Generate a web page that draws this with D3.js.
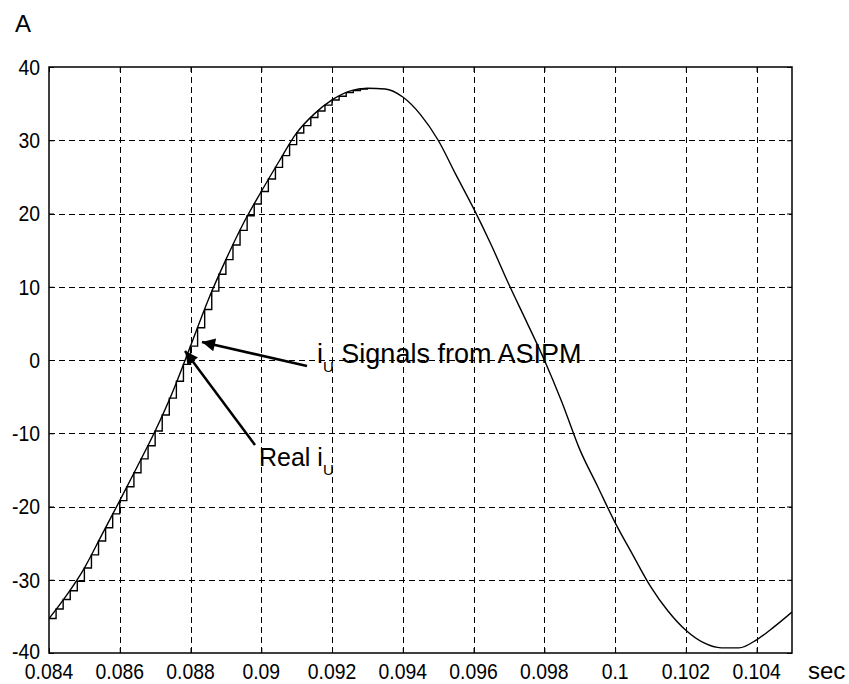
<!DOCTYPE html>
<html>
<head>
<meta charset="utf-8">
<script src="https://cdn.jsdelivr.net/npm/d3@7"></script>
<style>
  body { margin: 0; background: #fff; }
  .tick-label { font-family: "Liberation Sans", Arial, sans-serif; font-size: 22px; fill: #000; }
  .label { font-family: "Liberation Sans", Arial, sans-serif; font-size: 24px; fill: #000; }
</style>
</head>
<body>
<svg id="chart" width="849" height="684"></svg>
<script>
// axis ticks
const xTicks = [0.084, 0.086, 0.088, 0.09, 0.092, 0.094, 0.096, 0.098, 0.1, 0.102, 0.104];
const xTickLabels = ["0.084", "0.086", "0.088", "0.09", "0.092", "0.094", "0.096", "0.098", "0.1", "0.102", "0.104"];
const yTicks = [-40, -30, -20, -10, 0, 10, 20, 30, 40];
const yTickLabels = ["-40", "-30", "-20", "-10", "0", "10", "20", "30", "40"];

// real current iU (A), read every 0.5 ms
const realTime = [
  0.0840, 0.0845, 0.0850, 0.0855, 0.0860, 0.0865, 0.0870, 0.0875, 0.0880, 0.0885,
  0.0890, 0.0895, 0.0900, 0.0905, 0.0910, 0.0915, 0.0920, 0.0925, 0.0930, 0.0935,
  0.0940, 0.0945, 0.0950, 0.0955, 0.0960, 0.0965, 0.0970, 0.0975, 0.0980, 0.0985,
  0.0990, 0.0995, 0.1000, 0.1005, 0.1010, 0.1015, 0.1020, 0.1025, 0.1030, 0.1035,
  0.1040, 0.1045, 0.1050
];
const realCurrent = [
  -35.3, -32.1, -28.4, -23.8, -19.2, -14.5, -9.7, -4.3, 1.9, 8.2,
  13.7, 18.7, 23.0, 27.1, 31.0, 33.6, 35.5, 36.7, 37.1, 37.0,
  35.9, 33.5, 30.0, 25.3, 20.7, 15.7, 10.3, 5.2, 0.0, -5.8,
  -12.2, -17.2, -22.2, -26.6, -30.9, -34.3, -36.9, -38.6, -39.3, -39.3,
  -38.2, -36.4, -34.4
];

// sampled signal from ASIPM (held between samples)
const asipmTime = [
  0.0840, 0.0842, 0.0844, 0.0846, 0.0848, 0.0850, 0.0852, 0.0854, 0.0856, 0.0858,
  0.0860, 0.0862, 0.0864, 0.0866, 0.0868, 0.0870, 0.0872, 0.0874, 0.0876, 0.0878,
  0.0880, 0.0882, 0.0884, 0.0886, 0.0888, 0.0890, 0.0892, 0.0894, 0.0896, 0.0898,
  0.0900, 0.0902, 0.0904, 0.0906, 0.0908, 0.0910, 0.0912, 0.0914, 0.0916, 0.0918,
  0.0920, 0.0922, 0.0924, 0.0926, 0.0928, 0.0930
];
const asipmCurrent = [
  -35.3, -34.0, -32.7, -31.5, -30.2, -28.4, -26.6, -24.7, -22.9, -21.0,
  -19.2, -17.3, -15.4, -13.5, -11.7, -9.7, -7.5, -5.2, -2.9, -0.6,
  1.9, 4.4, 6.9, 9.4, 11.7, 13.7, 15.7, 17.7, 19.7, 21.3,
  23.0, 24.7, 26.3, 27.9, 29.4, 31.0, 32.0, 33.1, 34.0, 34.8,
  35.5, 36.0, 36.5, 36.8, 37.0, 37.1
];

const margin = { top: 67, right: 57, bottom: 31, left: 49 };
const W = 849, H = 684;
const width = W - margin.left - margin.right;
const height = H - margin.top - margin.bottom;

const svg = d3.select("#chart");
const g = svg.append("g").attr("transform", `translate(${margin.left},${margin.top})`);

const x = d3.scaleLinear().domain([0.084, 0.105]).range([0, width]);
const y = d3.scaleLinear().domain([-40, 40]).range([height, 0]);

// dashed grid
g.append("g")
  .attr("class", "grid")
  .attr("transform", `translate(0,${height})`)
  .call(d3.axisBottom(x).tickValues(xTicks.slice(1)).tickSize(-height).tickFormat(""));
g.append("g")
  .attr("class", "grid")
  .call(d3.axisLeft(y).tickValues(yTicks.slice(1, -1)).tickSize(-width).tickFormat(""));
g.selectAll(".grid .domain").remove();
g.selectAll(".grid line")
  .attr("stroke", "#000")
  .attr("stroke-width", 1)
  .attr("stroke-dasharray", "6,4")
  .attr("shape-rendering", "crispEdges");

// inner ticks on all four sides
const tickLen = 5;
g.append("g").attr("transform", `translate(0,${height})`)
  .call(d3.axisBottom(x).tickValues(xTicks).tickSize(-tickLen).tickFormat(""));
g.append("g")
  .call(d3.axisTop(x).tickValues(xTicks).tickSize(-tickLen).tickFormat(""));
g.append("g")
  .call(d3.axisLeft(y).tickValues(yTicks).tickSize(-tickLen).tickFormat(""));
g.append("g").attr("transform", `translate(${width},0)`)
  .call(d3.axisRight(y).tickValues(yTicks).tickSize(-tickLen).tickFormat(""));
g.selectAll(".domain").remove();
g.selectAll(".tick line").attr("stroke", "#000");

// tick labels (squeezed a little, the original font is narrow)
g.selectAll(".xlab")
  .data(xTicks)
  .enter()
  .append("text")
  .attr("class", "tick-label")
  .attr("transform", d => `translate(${x(d)},${height + 26}) scale(0.88,1)`)
  .attr("text-anchor", "middle")
  .text((d, i) => xTickLabels[i]);

g.selectAll(".ylab")
  .data(yTicks)
  .enter()
  .append("text")
  .attr("class", "tick-label")
  .attr("transform", d => `translate(-9,${y(d) - (d === -40 ? 2 : 0)}) scale(0.88,1)`)
  .attr("dy", "0.36em")
  .attr("text-anchor", "end")
  .text((d, i) => yTickLabels[i]);

// curves
g.append("clipPath").attr("id", "clip")
  .append("rect").attr("width", width).attr("height", height);

const real = realTime.map((t, i) => [t, realCurrent[i]]);
const asipm = asipmTime.map((t, i) => [t, asipmCurrent[i]]);

g.append("path")
  .datum(asipm)
  .attr("clip-path", "url(#clip)")
  .attr("fill", "none")
  .attr("stroke", "#000")
  .attr("stroke-width", 1.4)
  .attr("d", d3.line().x(d => x(d[0])).y(d => y(d[1])).curve(d3.curveStepAfter));

g.append("path")
  .datum(real)
  .attr("clip-path", "url(#clip)")
  .attr("fill", "none")
  .attr("stroke", "#000")
  .attr("stroke-width", 1.4)
  .attr("d", d3.line().x(d => x(d[0])).y(d => y(d[1])).curve(d3.curveMonotoneX));

// frame
g.append("rect")
  .attr("width", width)
  .attr("height", height)
  .attr("fill", "none")
  .attr("stroke", "#000")
  .attr("stroke-width", 1.5);

// axis units
svg.append("text").attr("class", "label").attr("x", 15).attr("y", 32).text("A");
svg.append("text").attr("class", "label").attr("x", 808).attr("y", 679).text("sec");

// annotations with arrows
svg.append("defs").append("marker")
  .attr("id", "head")
  .attr("viewBox", "0 0 10 10")
  .attr("refX", 10)
  .attr("refY", 5)
  .attr("markerUnits", "userSpaceOnUse")
  .attr("markerWidth", 19)
  .attr("markerHeight", 13)
  .attr("orient", "auto")
  .append("path")
  .attr("d", "M0,0 L10,5 L0,10 Z")
  .attr("fill", "#000");

svg.append("line")
  .attr("x1", 307).attr("y1", 366)
  .attr("x2", 202).attr("y2", 342)
  .attr("stroke", "#000").attr("stroke-width", 2.5)
  .attr("marker-end", "url(#head)");

svg.append("line")
  .attr("x1", 255).attr("y1", 445)
  .attr("x2", 185).attr("y2", 351)
  .attr("stroke", "#000").attr("stroke-width", 2.5)
  .attr("marker-end", "url(#head)");

const t1 = svg.append("text").attr("class", "label").attr("x", 317).attr("y", 363).style("font-size", "27px");
t1.append("tspan").text("i");
t1.append("tspan").attr("dy", 9).style("font-size", "15px").text("U");
t1.append("tspan").attr("dy", -9).text(" Signals from ASIPM");

const t2 = svg.append("text").attr("class", "label").attr("x", 259).attr("y", 466).style("font-size", "25px");
t2.append("tspan").text("Real i");
t2.append("tspan").attr("dy", 9).style("font-size", "15px").text("U");
</script>
</body>
</html>
